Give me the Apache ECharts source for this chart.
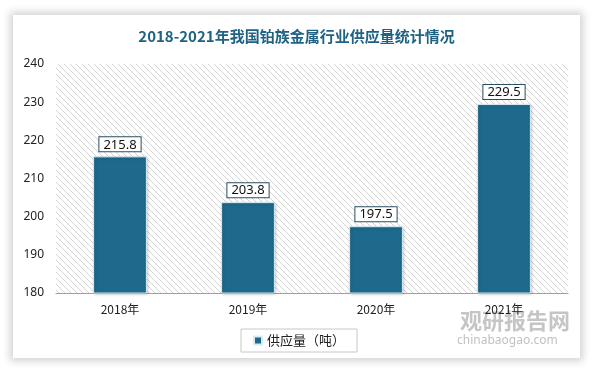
<!DOCTYPE html>
<html><head><meta charset="utf-8">
<script src="https://cdn.jsdelivr.net/npm/echarts@6/dist/echarts.min.js"></script>
<style>
html,body{margin:0;padding:0;background:#fff;}
#card{position:absolute;left:13px;top:15px;width:567px;height:343px;background:#fff;box-shadow:0 0 8px 3px rgba(0,0,0,0.18);}
#main{position:absolute;left:0;top:0;width:593px;height:371px;}
</style></head>
<body>
<div id="card"></div>
<div id="main"></div>
<script>
const categories = ['2018年','2019年','2020年','2021年'];
const supplyValues = [215.8, 203.8, 197.5, 229.5];
const seriesName = '供应量（吨）';
const titleText = '2018-2021年我国铂族金属行业供应量统计情况';

function hatch(){
  const c = document.createElement('canvas');
  c.width = 6; c.height = 6;
  const g = c.getContext('2d');
  g.fillStyle = '#ffffff'; g.fillRect(0,0,6,6);
  g.strokeStyle = '#d4d4d4'; g.lineWidth = 1;
  g.beginPath();
  g.moveTo(0,0); g.lineTo(6,6);
  g.moveTo(-3,3); g.lineTo(3,9);
  g.moveTo(3,-3); g.lineTo(9,3);
  g.stroke();
  return c;
}

const chart = echarts.init(document.getElementById('main'));
chart.setOption({
  backgroundColor: 'transparent',
  title: {
    text: titleText, left: 'center', top: 24,
    textStyle: {fontFamily: '"Noto Sans CJK SC", sans-serif', fontSize: 15, fontWeight: 'bold', color: '#1f6283'}
  },
  grid: {left: 56, right: 25, top: 64, bottom: 78, show: true, borderWidth: 0,
    backgroundColor: {image: hatch(), repeat: 'repeat'}},
  legend: {
    bottom: 19, left: 241, itemWidth: 8, itemHeight: 8, icon: 'rect',
    borderColor: '#c8c8c8', borderWidth: 1, padding: [5, 12, 5, 12],
    textStyle: {fontFamily: '"Noto Sans CJK SC", sans-serif', fontSize: 13, color: '#222'},
    data: [seriesName]
  },
  xAxis: {
    type: 'category', data: categories,
    axisLine: {lineStyle: {color: '#a0a0a0'}}, axisTick: {show: false},
    axisLabel: {color: '#222', fontSize: 12, margin: 10, fontFamily: '"Noto Sans CJK SC", sans-serif'}
  },
  yAxis: {
    type: 'value', min: 180, max: 240, interval: 10,
    axisLine: {show: false}, axisTick: {show: false}, splitLine: {show: false},
    axisLabel: {color: '#222', fontSize: 12, margin: 12, fontFamily: '"Noto Sans", sans-serif'}
  },
  series: [{
    name: seriesName, type: 'bar', data: supplyValues, barWidth: '42%',
    itemStyle: {color: '#1d6a8d', borderColor: '#dbeaf1', borderWidth: 1,
      shadowColor: 'rgba(0,0,0,0.25)', shadowBlur: 3, shadowOffsetX: 1, shadowOffsetY: 1},
    label: {show: true, position: 'top', distance: 5, color: '#111', fontSize: 13,
      fontFamily: '"Noto Sans", sans-serif',
      backgroundColor: '#fff', borderColor: '#2a4f63', borderWidth: 1, padding: [1, 4, 0, 4],
      formatter: p => p.value.toFixed(1)}
  }],
  graphic: [
    {type: 'text', left: 460, top: 310, style: {text: '观研报告网', fontSize: 22, fontWeight: 'bold', fill: 'rgba(150,150,150,0.55)', fontFamily: '"Noto Sans CJK SC", sans-serif'}},
    {type: 'text', left: 457, top: 335, style: {text: 'chinabaogao.com', fontSize: 12, fill: 'rgba(150,150,150,0.6)', fontFamily: '"Noto Sans", sans-serif'}}
  ]
});
</script>
</body></html>
